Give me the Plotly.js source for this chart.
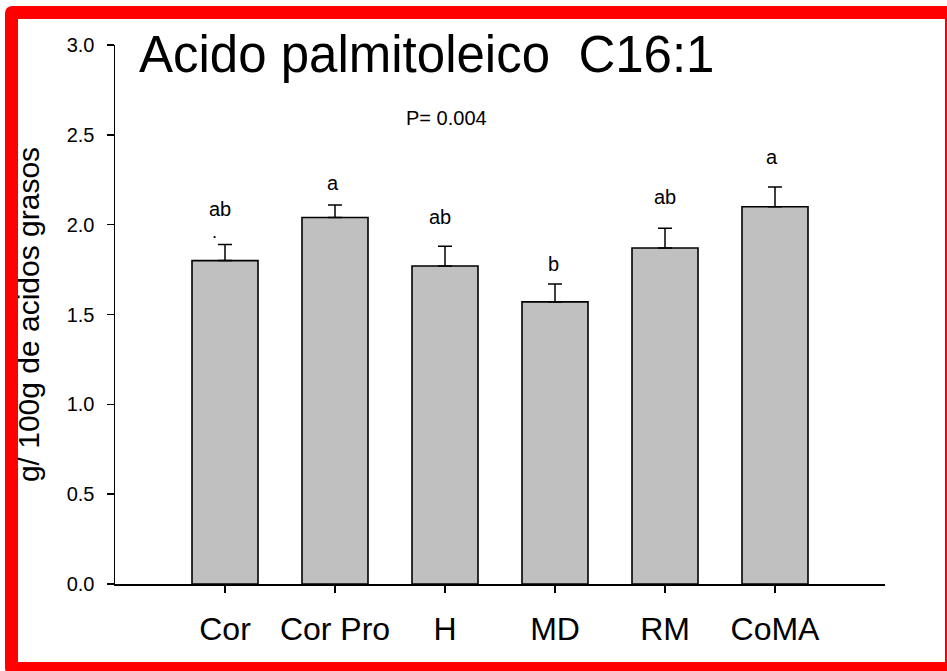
<!DOCTYPE html>
<html><head><meta charset="utf-8">
<script src="https://cdn.plot.ly/plotly-3.0.1.min.js"></script>
<style>
html,body{margin:0;padding:0;background:#fff;overflow:hidden}
#chart{position:absolute;left:0;top:0;width:947px;height:671px}
#frame{position:absolute;left:5px;top:6px;width:927px;height:643px;border:13px solid #ff0000;border-radius:7px;pointer-events:none}
</style></head><body>
<div id="chart"></div><div id="frame"></div>
<script>
const categories = ['Cor', 'Cor Pro', 'H', 'MD', 'RM', 'CoMA'];
const means = [1.80, 2.04, 1.77, 1.57, 1.87, 2.10];
const sem = [0.09, 0.07, 0.11, 0.10, 0.11, 0.11];
const letters = ['ab', 'a', 'ab', 'b', 'ab', 'a'];
const letterY = [2.085, 2.233, 2.044, 1.779, 2.155, 2.378];
const letterShift = [-5, -2, -5, -2, 0, -3];
const yTickVals = [0, 0.5, 1.0, 1.5, 2.0, 2.5, 3.0];
const titleText = 'Acido palmitoleico\u00a0 C16:1';
const yTitleText = 'g/ 100g de acidos grasos';
const pValueText = 'P= 0.004';

const FONT = 'Arial, "Liberation Sans", sans-serif';

const trace = {
  type: 'bar',
  x: categories,
  y: means,
  width: 0.6,
  marker: {color: '#c0c0c0', line: {color: '#000', width: 1.6}},
  error_y: {
    type: 'data', symmetric: false,
    array: sem, arrayminus: sem.map(() => 0),
    color: '#000', thickness: 1.5, width: 7
  },
  hoverinfo: 'none'
};

const annotations = letters.map((t, i) => ({
  x: categories[i], y: letterY[i], xref: 'x', yref: 'y',
  text: t, showarrow: false, xshift: letterShift[i],
  xanchor: 'center', yanchor: 'middle',
  font: {family: FONT, size: 20, color: '#000'}
}));
annotations.push({
  x: categories[0], y: 1.96, xref: 'x', yref: 'y', text: '.', showarrow: false,
  xshift: -11, xanchor: 'center', yanchor: 'middle',
  font: {family: FONT, size: 18, color: '#000'}
});
annotations.push({
  x: 0.43, y: 2.595, xref: 'paper', yref: 'y', text: pValueText, showarrow: false,
  xanchor: 'center', yanchor: 'middle',
  font: {family: FONT, size: 20, color: '#000'}
});

const layout = {
  width: 947, height: 671,
  margin: {l: 115, r: 62, t: 45, b: 87, pad: 0},
  paper_bgcolor: '#fff', plot_bgcolor: '#fff',
  showlegend: false,
  title: {
    text: titleText,
    font: {family: FONT, size: 51, color: '#000'},
    xref: 'container', x: 139 / 947, xanchor: 'left',
    yref: 'container', y: 1 - 54 / 671, yanchor: 'middle'
  },
  xaxis: {
    type: 'category', range: [-1, 6], fixedrange: true,
    showline: true, linecolor: '#000', linewidth: 1.5, mirror: false,
    ticks: 'outside', ticklen: 7, tickwidth: 1.5, tickcolor: '#000',
    showgrid: false, zeroline: false,
    tickfont: {family: FONT, size: 32, color: '#000'},
    ticklabelstandoff: 9
  },
  yaxis: {
    range: [0, 3.0], fixedrange: true,
    tickvals: yTickVals, tickformat: '.1f',
    showline: true, linecolor: '#000', linewidth: 1.5,
    ticks: 'outside', ticklen: 7, tickwidth: 1.5, tickcolor: '#000',
    showgrid: false, zeroline: false,
    tickfont: {family: FONT, size: 20, color: '#000'},
    ticklabelstandoff: 8,
    title: {text: yTitleText, font: {family: FONT, size: 30, color: '#000'}, standoff: 18}
  },
  annotations: annotations
};

Plotly.newPlot('chart', [trace], layout, {displayModeBar: false, staticPlot: true});
</script>
</body></html>
